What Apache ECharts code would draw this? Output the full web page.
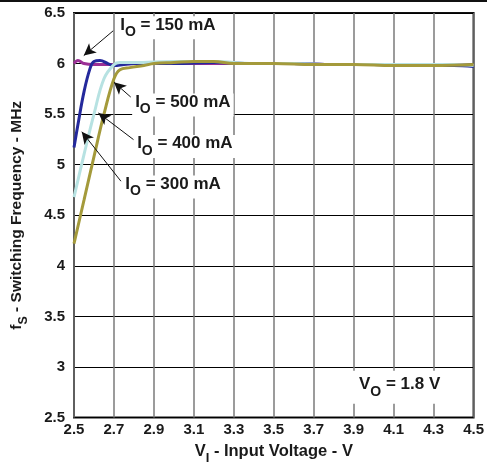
<!DOCTYPE html>
<html>
<head>
<meta charset="utf-8">
<script src="https://cdn.jsdelivr.net/npm/echarts@6/dist/echarts.min.js"></script>
<style>
  html, body { margin: 0; padding: 0; background: #fff; }
  #chart { width: 487px; height: 470px; }
</style>
</head>
<body>
<div id="chart"></div>
<script>
// 读图得到的数据 (V, MHz)
const xTicks = [2.5, 2.7, 2.9, 3.1, 3.3, 3.5, 3.7, 3.9, 4.1, 4.3, 4.5];
const yTicks = [2.5, 3, 3.5, 4, 4.5, 5, 5.5, 6, 6.5];

const vin150 = [2.5, 2.52, 2.55, 2.6, 2.7, 2.8, 3.0, 3.2, 3.4, 3.6, 3.8, 4.0, 4.2, 4.4, 4.5];
const f150 = [6.0, 6.03, 6.0, 5.99, 5.99, 6.0, 6.0, 6.0, 6.0, 6.0, 5.99, 5.99, 5.99, 5.99, 5.98];

const vin500 = [2.5, 2.52, 2.55, 2.58, 2.6, 2.63, 2.67, 2.7, 2.75, 2.8, 3.0, 3.2, 3.4, 3.6, 3.8, 4.0, 4.2, 4.4, 4.5];
const f500 = [5.17, 5.4, 5.72, 5.95, 6.02, 6.03, 6.0, 5.98, 5.99, 6.0, 6.0, 6.01, 6.0, 6.0, 5.99, 5.99, 5.98, 5.98, 5.97];

const vin400 = [2.5, 2.55, 2.6, 2.65, 2.7, 2.73, 2.8, 3.0, 3.2, 3.4, 3.6, 3.8, 4.0, 4.2, 4.4, 4.5];
const f400 = [4.68, 5.1, 5.5, 5.85, 5.99, 6.01, 6.01, 6.02, 6.02, 6.0, 6.0, 5.99, 5.99, 5.99, 5.99, 5.98];

const vin300 = [2.5, 2.55, 2.6, 2.65, 2.7, 2.73, 2.78, 2.85, 2.9, 3.0, 3.1, 3.2, 3.3, 3.5, 3.7, 3.9, 4.1, 4.3, 4.5];
const f300 = [4.22, 4.65, 5.08, 5.5, 5.85, 5.94, 5.96, 5.98, 6.0, 6.01, 6.02, 6.02, 6.0, 6.0, 5.99, 5.99, 5.98, 5.98, 5.99];

// 标注: 文字中心 at, 箭头 from -> to (数据坐标)
const notes = [
  { text: '150 mA', at: [2.97, 6.353], from: [2.696, 6.324], to: [2.549, 6.079] },
  { text: '500 mA', at: [3.045, 5.59], from: [2.784, 5.669], to: [2.70, 5.815] },
  { text: '400 mA', at: [3.055, 5.18], from: [2.798, 5.248], to: [2.622, 5.512] },
  { text: '300 mA', at: [2.996, 4.78], from: [2.735, 4.837], to: [2.539, 5.326] }
];
const voNote = { at: [4.13, 2.8] };

const font = '"Liberation Sans", Arial, sans-serif';
const pair = (xs, ys) => xs.map((x, i) => [x, ys[i]]);

const mkRich = (big, small) => ({
  b: { fontFamily: font, fontWeight: 'bold', fontSize: big, color: '#1a1a1a', verticalAlign: 'top', lineHeight: big + 6 },
  s: { fontFamily: font, fontWeight: 'bold', fontSize: small, color: '#1a1a1a', verticalAlign: 'bottom', lineHeight: big + 6, padding: [Math.round(big * 0.55), 0, 0, 0] }
});
const noteRich = mkRich(17, 14);
const xNameRich = mkRich(16.5, 13);
const yNameRich = mkRich(15.5, 12.5);

const chart = echarts.init(document.getElementById('chart'));

const option = {
  backgroundColor: '#fff',
  animation: false,
  grid: { left: 67, right: 12, top: 13, bottom: 49, show: true, borderColor: '#111', borderWidth: 2, backgroundColor: 'transparent' },
  xAxis: {
    type: 'value', min: 2.5, max: 4.5, interval: 0.2,
    name: '{b|V}{s|I}{b| - Input Voltage - V}',
    nameLocation: 'middle', nameGap: 24,
    nameTextStyle: { rich: xNameRich },
    axisLine: { show: false },
    axisTick: { show: false },
    axisLabel: { fontFamily: font, fontWeight: 'bold', fontSize: 15, color: '#1a1a1a', margin: 5,
      formatter: v => xTicks.includes(+v.toFixed(1)) ? v.toFixed(1) : '' },
    splitLine: { show: true, lineStyle: { color: '#7a7a7a', width: 1.5 } }
  },
  yAxis: {
    type: 'value', min: 2.5, max: 6.5, interval: 0.5,
    name: '{b|f}{s|S}{b| - Switching Frequency - MHz}',
    nameLocation: 'middle', nameGap: 44, nameRotate: 90,
    nameTextStyle: { rich: yNameRich },
    axisLine: { show: false },
    axisTick: { show: false },
    axisLabel: { fontFamily: font, fontWeight: 'bold', fontSize: 15, color: '#1a1a1a', margin: 9,
      formatter: v => yTicks.includes(v) ? String(v) : '' },
    splitLine: { show: true, lineStyle: { color: '#000', width: 1.2 } }
  },
  series: [
    { name: '150', type: 'line', data: pair(vin150, f150), smooth: 0.4, showSymbol: false,
      lineStyle: { color: '#9b2f96', width: 3 } },
    { name: '500', type: 'line', data: pair(vin500, f500), smooth: 0.4, showSymbol: false,
      lineStyle: { color: '#24299c', width: 3 } },
    { name: '400', type: 'line', data: pair(vin400, f400), smooth: 0.4, showSymbol: false,
      lineStyle: { color: '#b7e2e2', width: 3 } },
    { name: '300', type: 'line', data: pair(vin300, f300), smooth: 0.4, showSymbol: false,
      lineStyle: { color: '#a49a3b', width: 3 } },
    {
      name: 'notes', type: 'line', data: [], z: 10,
      markLine: {
        silent: true, symbol: ['none', 'arrow'], symbolSize: [9, 12], animation: false,
        lineStyle: { color: '#111', width: 1, type: 'solid' },
        label: { show: false },
        data: notes.map(n => [{ coord: n.from }, { coord: n.to }])
      },
      markPoint: {
        silent: true, symbol: 'rect', symbolSize: 0, animation: false,
        label: { show: true, position: 'inside', backgroundColor: '#fff', padding: [0, 3, 0, 3], rich: noteRich },
        data: notes.map(n => ({ coord: n.at, label: { formatter: '{b|I}{s|O}{b| = ' + n.text + '}' } }))
          .concat([{ coord: voNote.at, label: { formatter: '{b|V}{s|O}{b| = 1.8 V}', padding: [5, 8, 5, 8] } }])
      }
    }
  ],
  graphic: [
    { type: 'rect', left: 0, top: 0, shape: { width: 487, height: 2 }, style: { fill: '#111' } }
  ]
};

chart.setOption(option);
</script>
</body>
</html>
